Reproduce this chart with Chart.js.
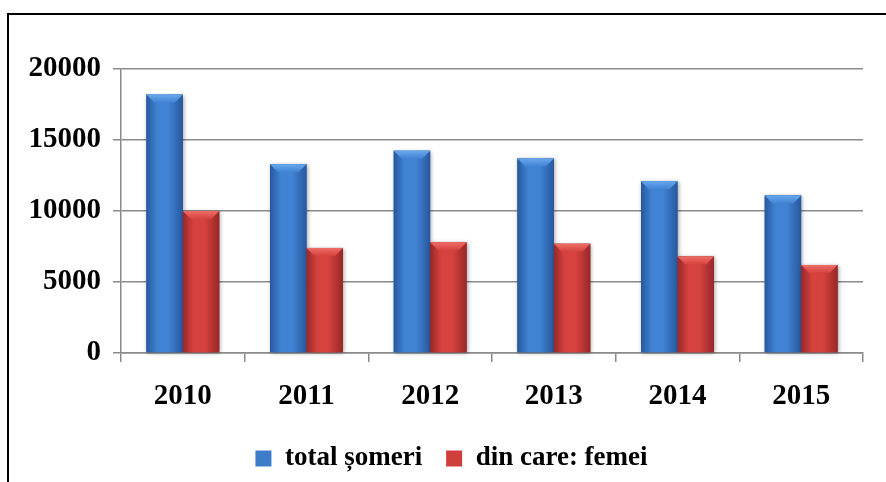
<!DOCTYPE html>
<html>
<head>
<meta charset="utf-8">
<script src="https://cdn.jsdelivr.net/npm/chart.js@4.4.1/dist/chart.umd.min.js"></script>
<style>
  html, body { margin: 0; padding: 0; background: #fff; }
  #wrap { position: relative; width: 886px; height: 482px; overflow: hidden; }
  #frame { position: absolute; left: 7px; top: 13px; width: 900px; height: 500px; border: 2px solid #000; }
  #chart { position: absolute; left: 0; top: 0; }
</style>
</head>
<body>
<div id="wrap">
  <div id="frame"></div>
  <canvas id="chart" width="886" height="482"></canvas>
</div>
<script>
const years = ["2010", "2011", "2012", "2013", "2014", "2015"];
const totalSomeri = [18200, 13300, 14250, 13700, 12100, 11100];
const femei = [10000, 7400, 7800, 7700, 6800, 6200];
const yTicks = [0, 5000, 10000, 15000, 20000];

const serif = "'Liberation Serif', 'Times New Roman', serif";
const gridColor = "#8a8a8a";

Chart.defaults.font.family = serif;
Chart.defaults.font.size = 27;
Chart.defaults.font.weight = "bold";
Chart.defaults.color = "#000";

// shading for the bars: darker edges, lighter middle, bevelled top
const shades = [
  { dark: "rgb(40,88,158)", mid: "rgb(64,131,212)", light: "rgb(105,168,236)" },
  { dark: "rgb(150,40,40)", mid: "rgb(214,66,62)", light: "rgb(238,110,104)" }
];

const barShade = {
  id: "barShade",
  afterLayout(chart) {
    // legend sits a bit right of the canvas centre in the original
    chart.legend.left += 20;
    chart.legend.right += 20;
  },
  afterDatasetsDraw(chart) {
    const ctx = chart.ctx;
    chart.data.datasets.forEach(function (ds, di) {
      const meta = chart.getDatasetMeta(di);
      const s = shades[di];
      meta.data.forEach(function (bar) {
        const p = bar.getProps(["x", "y", "base", "width"], true);
        const l = p.x - p.width / 2, r = p.x + p.width / 2;
        ctx.save();
        ctx.shadowColor = "rgba(0,0,0,0.35)";
        ctx.shadowBlur = 4;
        ctx.shadowOffsetX = 1;
        ctx.shadowOffsetY = 1;
        const g = ctx.createLinearGradient(l, 0, r, 0);
        g.addColorStop(0, s.dark);
        g.addColorStop(0.3, s.mid);
        g.addColorStop(0.6, s.mid);
        g.addColorStop(1, s.dark);
        ctx.fillStyle = g;
        ctx.fillRect(l, p.y, p.width, p.base - p.y);
        ctx.restore();
        // top bevel
        const b = 8;
        ctx.beginPath();
        ctx.moveTo(l, p.y);
        ctx.lineTo(r, p.y);
        ctx.lineTo(r - b, p.y + b);
        ctx.lineTo(l + b, p.y + b);
        ctx.closePath();
        const gt = ctx.createLinearGradient(0, p.y, 0, p.y + b);
        gt.addColorStop(0, s.light);
        gt.addColorStop(1, s.mid);
        ctx.fillStyle = gt;
        ctx.fill();
      });
    });
  }
};

new Chart(document.getElementById("chart"), {
  type: "bar",
  data: {
    labels: years,
    datasets: [
      { label: "total șomeri", data: totalSomeri, backgroundColor: "#3d7cc9" },
      { label: "din care: femei", data: femei, backgroundColor: "#cf403c" }
    ]
  },
  options: {
    responsive: false,
    animation: false,
    categoryPercentage: 0.59,
    barPercentage: 1.0,
    layout: { padding: { top: 69, left: 0, right: 23, bottom: 0 } },
    plugins: {
      tooltip: { enabled: false },
      legend: {
        position: "bottom",
        labels: {
          color: "#000",
          boxWidth: 16,
          boxHeight: 16,
          padding: 24,
          font: { family: serif, size: 27, weight: "bold" }
        }
      }
    },
    scales: {
      x: {
        afterFit: function (scale) { scale.height = 68; },
        border: { display: true, color: gridColor, width: 1.5 },
        grid: { offset: true, drawOnChartArea: false, drawTicks: true, tickLength: 9, color: gridColor, lineWidth: 1.5 },
        ticks: { color: "#000", padding: 17, font: { family: serif, size: 29, weight: "bold" } }
      },
      y: {
        min: 0,
        max: 20000,
        afterFit: function (scale) { scale.width = 121; },
        afterBuildTicks: function (scale) { scale.ticks = yTicks.map(function (v) { return { value: v }; }); },
        border: { display: true, color: gridColor, width: 1.5 },
        grid: { color: gridColor, lineWidth: 1.5, tickLength: 8 },
        ticks: {
          color: "#000",
          padding: 12,
          font: { family: serif, size: 29, weight: "bold" },
          callback: function (value) { return String(value); }
        }
      }
    }
  },
  plugins: [barShade]
});
</script>
</body>
</html>
